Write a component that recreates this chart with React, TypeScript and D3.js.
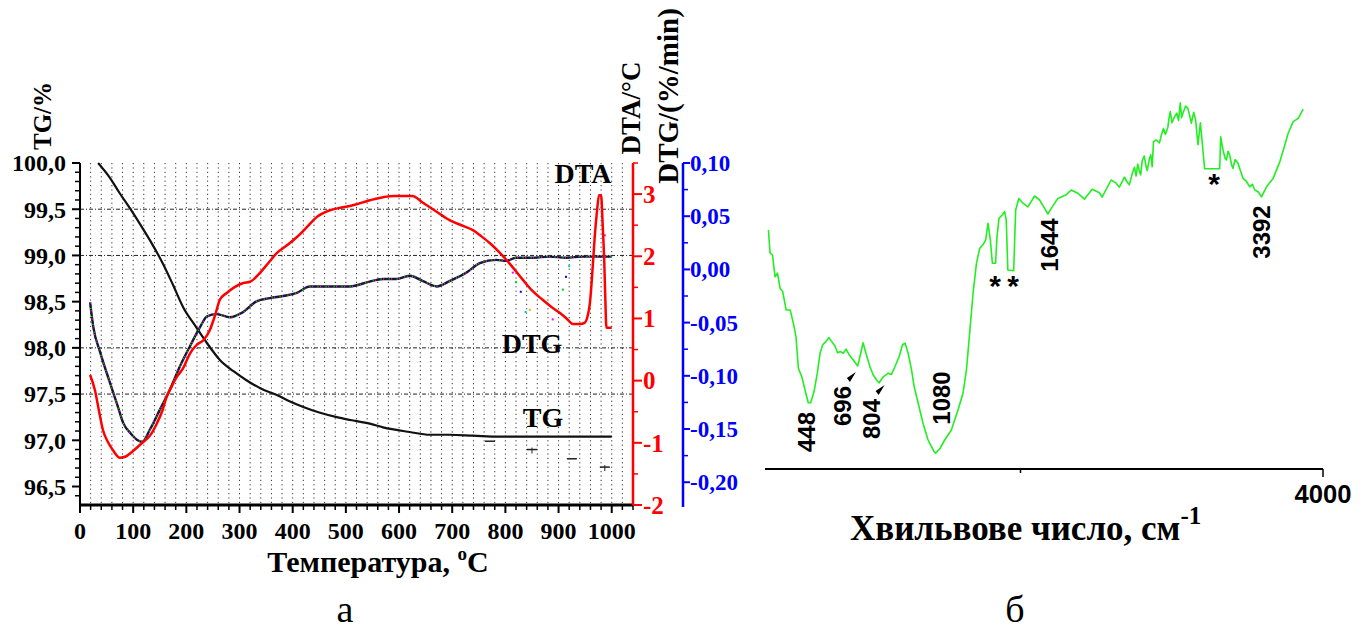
import React from "react";
import * as d3 from "d3";

// ---------- Thermal analysis (left panel) ----------
const tgData: [number, number][] = [
  [34, 100.0], [55, 99.85], [75, 99.67], [95, 99.5], [117, 99.3], [136, 99.12], [156, 98.91],
  [175, 98.68], [194, 98.44], [219, 98.22], [239, 98.05], [263, 97.87], [288, 97.75], [313, 97.65],
  [340, 97.56], [370, 97.49], [395, 97.42], [420, 97.36], [450, 97.3], [483, 97.25], [508, 97.22],
  [545, 97.18], [570, 97.14], [620, 97.09], [658, 97.06], [695, 97.06], [740, 97.05], [789, 97.04],
  [1000, 97.04],
];
const dtaData: [number, number][] = [
  [19, 0.09], [28, -0.15], [36, -0.5], [43, -0.79], [52, -0.98], [62, -1.12], [75, -1.24],
  [86, -1.22], [97, -1.15], [117, -1.0], [132, -0.88], [145, -0.68], [155, -0.48], [163, -0.26],
  [172, -0.1], [182, 0.06], [194, 0.2], [207, 0.44], [220, 0.58], [232, 0.65], [244, 0.81],
  [254, 1.05], [263, 1.3], [276, 1.41], [290, 1.5], [307, 1.57], [320, 1.59], [338, 1.73],
  [355, 1.9], [370, 2.05], [390, 2.18], [408, 2.31], [428, 2.48], [445, 2.63], [470, 2.74],
  [490, 2.78], [513, 2.82], [545, 2.9], [570, 2.95], [590, 2.97], [625, 2.97], [645, 2.86],
  [670, 2.72], [695, 2.58], [720, 2.49], [739, 2.42], [755, 2.32], [771, 2.21], [787, 2.08],
  [802, 1.94], [818, 1.78], [833, 1.62], [850, 1.45], [870, 1.3], [886, 1.19], [902, 1.09],
  [915, 1.0], [927, 0.91], [940, 0.91], [949, 0.93], [955, 1.05], [959, 1.25], [964, 1.8],
  [968, 2.31], [972, 2.7], [976, 2.98], [980, 2.98], [983, 2.5], [986, 1.9], [988, 1.3],
  [990, 0.85], [1000, 0.85],
];
const dtgData: [number, number][] = [
  [19, -0.031], [25, -0.054], [38, -0.078], [56, -0.106], [70, -0.127], [81, -0.144], [95, -0.154],
  [107, -0.16], [117, -0.162], [132, -0.15], [150, -0.132], [169, -0.113], [188, -0.091],
  [207, -0.072], [226, -0.054], [239, -0.044], [257, -0.042], [282, -0.045], [307, -0.04],
  [332, -0.03], [357, -0.027], [382, -0.025], [408, -0.022], [432, -0.016], [470, -0.016],
  [508, -0.016], [541, -0.012], [570, -0.009], [595, -0.009], [620, -0.006], [645, -0.011],
  [671, -0.016], [695, -0.011], [727, -0.003], [752, 0.006], [783, 0.009], [802, 0.008],
  [820, 0.011], [852, 0.011], [883, 0.012], [914, 0.011], [946, 0.012], [1000, 0.012],
];
const dtgNoise: [number, number][] = [
  [814, -0.003], [820, -0.012], [829, -0.021], [838, -0.04], [846, -0.038], [889, -0.047],
  [897, -0.039], [908, -0.019], [914, -0.007], [920, 0.003], [968, 0.031], [987, 0.032],
];
const tgMarks: [number, number][] = [[771, 96.99], [850, 96.9], [925, 96.8], [987, 96.71]];

const tempTicks = [0, 100, 200, 300, 400, 500, 600, 700, 800, 900, 1000];
const tgTicks = [96.5, 97.0, 97.5, 98.0, 98.5, 99.0, 99.5, 100.0];
const tgGrid = [97.5, 98.0, 99.0, 99.5];
const dtaTicks = [-2, -1, 0, 1, 2, 3];
const dtgTicks = [-0.2, -0.15, -0.1, -0.05, 0.0, 0.05, 0.1];

// ---------- IR spectrum (right panel) ----------
const irData: [number, number][] = [
  [246, 61.0], [254, 55.2], [266, 54.8], [279, 49.3], [291, 50.2], [304, 46.4], [317, 45.6],
  [334, 41.0], [354, 41.0], [370, 37.7], [383, 34.3], [395, 26.4], [412, 24.3], [428, 21.0],
  [444, 17.8], [456, 17.8], [473, 20.6], [489, 25.2], [503, 30.2], [516, 32.3], [532, 33.1],
  [547, 34.1], [561, 33.1], [577, 32.0], [590, 30.3], [605, 30.6], [618, 30.2], [632, 31.2],
  [648, 29.8], [668, 28.5], [690, 27.0], [701, 29.3], [717, 32.8], [731, 30.2], [751, 26.8],
  [767, 24.8], [784, 23.5], [797, 22.8], [817, 24.3], [842, 25.2], [858, 24.9], [875, 26.8],
  [896, 29.3], [913, 32.3], [926, 32.7], [941, 30.2], [958, 26.0], [971, 21.8], [991, 17.7],
  [1015, 12.7], [1040, 8.5], [1062, 6.4], [1070, 5.6], [1078, 5.2], [1088, 5.8], [1098, 6.2],
  [1123, 8.5], [1156, 11.0], [1189, 16.0], [1214, 20.2], [1231, 26.0], [1247, 35.2], [1264, 45.2],
  [1281, 52.7], [1297, 56.4], [1313, 57.3], [1327, 58.5], [1338, 62.7], [1350, 58.5], [1360, 52.7],
  [1376, 52.7], [1383, 59.3], [1393, 63.9], [1410, 64.8], [1421, 65.6], [1429, 63.5], [1437, 51.0],
  [1466, 50.8], [1476, 66.0], [1492, 68.9], [1512, 67.7], [1537, 66.8], [1570, 69.5], [1595, 68.5],
  [1620, 66.4], [1636, 65.0], [1653, 66.4], [1686, 68.9], [1727, 69.8], [1752, 71.0], [1785, 70.2],
  [1818, 68.7], [1856, 71.2], [1893, 70.3], [1906, 69.2], [1951, 73.5], [1976, 72.7], [1992, 71.7],
  [2034, 74.2], [2060, 73.0], [2083, 72.3], [2110, 75.0], [2133, 76.7], [2150, 74.5], [2165, 77.5],
  [2183, 75.6], [2195, 74.8], [2210, 78.3], [2230, 79.5], [2249, 76.8], [2260, 75.9], [2282, 78.9],
  [2295, 79.8], [2309, 76.8], [2322, 83.1], [2350, 83.5], [2381, 82.8], [2400, 84.8], [2421, 86.4],
  [2440, 84.9], [2464, 86.7], [2475, 88.9], [2488, 90.6], [2505, 87.8], [2530, 89.3], [2553, 90.2],
  [2570, 88.4], [2587, 92.8], [2600, 89.1], [2613, 90.2], [2640, 92.0], [2662, 91.4], [2680, 89.6],
  [2696, 87.7], [2720, 90.4], [2739, 88.5], [2762, 82.3], [2786, 87.8], [2828, 76.3], [2977, 76.3],
  [2987, 84.3], [3010, 81.0], [3030, 79.0], [3044, 78.5], [3060, 80.7], [3076, 79.8], [3095, 77.3],
  [3109, 76.4], [3130, 78.6], [3159, 77.7], [3185, 75.6], [3209, 73.9], [3240, 73.2], [3275, 71.8],
  [3300, 72.4], [3325, 71.0], [3360, 70.5], [3391, 69.3], [3441, 71.8], [3506, 73.9], [3573, 78.1],
  [3615, 81.6], [3655, 85.2], [3705, 88.1], [3755, 88.9], [3804, 91.2],
];
const irPeaks = [448, 696, 804, 1080, 1644, 3392];
const irStars = [1373, 1463, 2921];
const irTicks = [1500, 4000];
const irTickLabels = ["", "4000"];

const SERIF = "'Liberation Serif','Times New Roman',Times,serif";
const SANS = "'Liberation Sans',Arial,Helvetica,sans-serif";

const fmt = (v: number, d: number) => v.toFixed(d).replace(".", ",");

export default function App() {
  const xT = d3.scaleLinear().domain([0, 1040]).range([80, 633]);
  const yTG = d3.scaleLinear().domain([96.3, 100]).range([505, 163]);
  const yDTA = d3.scaleLinear().domain([-2, 3.5]).range([505, 163]);
  const yDTG = d3.scaleLinear().domain([-0.2214, 0.1]).range([505, 163]);

  const xW = d3.scaleLinear().domain([0, 2000, 4000]).range([719, 1121, 1323]);
  const yT = d3.scaleLinear().domain([0, 100]).range([474, 74]);

  const lineTG = d3.line<[number, number]>().x((d) => xT(d[0])).y((d) => yTG(d[1])).curve(d3.curveMonotoneX);
  const lineDTA = d3.line<[number, number]>().x((d) => xT(d[0])).y((d) => yDTA(d[1])).curve(d3.curveMonotoneX);
  const lineDTG = d3.line<[number, number]>().x((d) => xT(d[0])).y((d) => yDTG(d[1])).curve(d3.curveMonotoneX);
  const lineIR = d3.line<[number, number]>().x((d) => xW(d[0])).y((d) => yT(d[1]));

  const left = xT(0);
  const right = xT(1040);
  const top = 163;
  const bottom = 505;
  const blueX = 683;

  const vGrid = d3.range(20, 1040, 20);
  const tgMinor = d3.range(96.4, 100.001, 0.1).filter((v) => Math.abs(v * 2 - Math.round(v * 2)) > 0.01);
  const dtaMinor = d3.range(-1.5, 3.6, 1);
  const dtgMinor = d3.range(-0.175, 0.1, 0.05);
  const tempMinor = d3.range(0, 1041, 20).filter((v) => v % 100 !== 0);

  const noiseColors = ["#ff00ff", "#00cc00", "#0000ff", "#00cccc", "#ffaa00", "#ff00ff"];

  // annotation layout for IR peaks (dx relative to peak, y center in px)
  const peakLayout: Record<number, { dx: number; y: number; arrow?: boolean }> = {
    448: { dx: -3, y: 432 },
    696: { dx: -16, y: 406, arrow: true },
    804: { dx: -9, y: 419, arrow: true },
    1080: { dx: 5, y: 398 },
    1644: { dx: 0, y: 245 },
    3392: { dx: 0, y: 232 },
  };
  const starY = [296, 296, 194];

  const dtgD = lineDTG(dtgData) || "";

  return (
    <svg width={1369} height={634} style={{ position: "absolute", left: 0, top: 0, background: "#fff" }}>
      <rect x={0} y={0} width={1369} height={634} fill="#fff" />

      {/* grid */}
      {vGrid.map((v) => (
        <line key={"vg" + v} x1={xT(v)} x2={xT(v)} y1={top} y2={bottom} stroke="#333" strokeWidth={1} strokeDasharray="1.2 3.2" />
      ))}
      {tgGrid.map((v) => (
        <line key={"hg" + v} x1={left} x2={right} y1={yTG(v)} y2={yTG(v)} stroke="#222" strokeWidth={1} strokeDasharray="4 2 1 2" />
      ))}

      {/* curves */}
      <path d={lineTG(tgData) || ""} fill="none" stroke="#111" strokeWidth={2.2} />
      {tgMarks.map((d, i) => (
        <g key={"tm" + i}>
          <line x1={xT(d[0]) - 5} x2={xT(d[0]) + 5} y1={yTG(d[1])} y2={yTG(d[1])} stroke="#222" strokeWidth={1.5} />
          {i % 2 === 1 && <line x1={xT(d[0])} x2={xT(d[0])} y1={yTG(d[1]) - 2} y2={yTG(d[1]) + 4} stroke="#222" strokeWidth={1} />}
        </g>
      ))}
      <path d={dtgD} fill="none" stroke="#1a1a1a" strokeWidth={2.4} />
      <path d={dtgD} fill="none" stroke="#ff00ff" strokeWidth={1.6} strokeDasharray="1 7" />
      <path d={dtgD} fill="none" stroke="#00dd00" strokeWidth={1.6} strokeDasharray="1 7" strokeDashoffset={2.5} />
      <path d={dtgD} fill="none" stroke="#0000ff" strokeWidth={1.6} strokeDasharray="1 7" strokeDashoffset={5} />
      {dtgNoise.map((d, i) => (
        <rect key={"nz" + i} x={xT(d[0]) - 1} y={yDTG(d[1]) - 1} width={2} height={2} fill={noiseColors[i % noiseColors.length]} />
      ))}
      <path d={lineDTA(dtaData) || ""} fill="none" stroke="#ff0000" strokeWidth={2.5} />

      {/* curve labels */}
      <text x={583} y={183} fontFamily={SERIF} fontWeight="bold" fontSize={28} textAnchor="middle">DTA</text>
      <text x={532} y={353} fontFamily={SERIF} fontWeight="bold" fontSize={28} textAnchor="middle">DTG</text>
      <text x={543} y={427} fontFamily={SERIF} fontWeight="bold" fontSize={28} textAnchor="middle">TG</text>

      {/* left TG axis */}
      <line x1={left} x2={left} y1={top} y2={bottom} stroke="#000" strokeWidth={2} />
      {tgTicks.map((v) => (
        <g key={"tgt" + v}>
          <line x1={left - 8} x2={left} y1={yTG(v)} y2={yTG(v)} stroke="#000" strokeWidth={2} />
          <text x={66} y={yTG(v)} dy="0.35em" textAnchor="end" fontFamily={SERIF} fontWeight="bold" fontSize={24}>{fmt(v, 1)}</text>
        </g>
      ))}
      {tgMinor.map((v) => (
        <line key={"tgm" + v} x1={left - 5} x2={left} y1={yTG(v)} y2={yTG(v)} stroke="#000" strokeWidth={1.5} />
      ))}
      <text transform={`translate(42,116) rotate(-90)`} textAnchor="middle" dominantBaseline="central" fontFamily={SERIF} fontWeight="bold" fontSize={25}>TG/%</text>

      {/* bottom temperature axis */}
      <line x1={left - 1} x2={right} y1={bottom} y2={bottom} stroke="#000" strokeWidth={3} />
      {tempTicks.map((v) => (
        <g key={"xt" + v}>
          <line x1={xT(v)} x2={xT(v)} y1={bottom} y2={bottom + 8} stroke="#000" strokeWidth={2} />
          <text x={xT(v)} y={539} textAnchor="middle" fontFamily={SERIF} fontWeight="bold" fontSize={24}>{v}</text>
        </g>
      ))}
      {tempMinor.map((v) => (
        <line key={"xm" + v} x1={xT(v)} x2={xT(v)} y1={bottom} y2={bottom + 5} stroke="#000" strokeWidth={1.5} />
      ))}
      <text x={378} y={572} textAnchor="middle" fontFamily={SERIF} fontWeight="bold" fontSize={30}>
        Температура, <tspan fontSize={19} dy={-12}>o</tspan><tspan dy={12}>C</tspan>
      </text>

      {/* red DTA axis */}
      <line x1={right} x2={right} y1={top} y2={bottom} stroke="#ff0000" strokeWidth={2.5} />
      {dtaTicks.map((v) => (
        <g key={"dta" + v}>
          <line x1={right} x2={right + 9} y1={yDTA(v)} y2={yDTA(v)} stroke="#ff0000" strokeWidth={2} />
          <text x={643} y={yDTA(v)} dy="0.35em" fontFamily={SERIF} fontWeight="bold" fontSize={25} fill="#ff0000">{v}</text>
        </g>
      ))}
      {dtaMinor.map((v) => (
        <line key={"dtam" + v} x1={right} x2={right + 5} y1={yDTA(v)} y2={yDTA(v)} stroke="#ff0000" strokeWidth={1.5} />
      ))}
      <text transform={`translate(631,108) rotate(-90)`} textAnchor="middle" dominantBaseline="central" fontFamily={SERIF} fontWeight="bold" fontSize={27}>DTA/°C</text>

      {/* blue DTG axis */}
      <line x1={blueX} x2={blueX} y1={top} y2={bottom + 2} stroke="#0000ff" strokeWidth={2.5} />
      {dtgTicks.map((v) => (
        <g key={"dtg" + v}>
          <line x1={blueX} x2={blueX + 7} y1={yDTG(v)} y2={yDTG(v)} stroke="#0000ff" strokeWidth={2} />
          <text x={690} y={yDTG(v)} dy="0.35em" fontFamily={SERIF} fontWeight="bold" fontSize={23} fill="#0000ff">{fmt(v, 2)}</text>
        </g>
      ))}
      {dtgMinor.map((v) => (
        <line key={"dtgm" + v} x1={blueX} x2={blueX + 5} y1={yDTG(v)} y2={yDTG(v)} stroke="#0000ff" strokeWidth={1.5} />
      ))}
      <text transform={`translate(668,96) rotate(-90)`} textAnchor="middle" dominantBaseline="central" fontFamily={SERIF} fontWeight="bold" fontSize={29}>DTG/(%/min)</text>

      {/* ---------- IR panel ---------- */}
      <path d={lineIR(irData) || ""} fill="none" stroke="#22ee22" strokeWidth={1.6} strokeLinejoin="round" />
      <line x1={765} x2={xW(4000)} y1={469} y2={469} stroke="#000" strokeWidth={2} />
      {irTicks.map((v, i) => (
        <g key={"irt" + v}>
          <line x1={xW(v)} x2={xW(v)} y1={469} y2={469 + (irTickLabels[i] ? 8 : 4)} stroke="#000" strokeWidth={1.5} />
          {irTickLabels[i] && (
            <text x={xW(v)} y={503} textAnchor="middle" fontFamily={SANS} fontWeight="bold" fontSize={26} textLength={57} lengthAdjust="spacingAndGlyphs">{irTickLabels[i]}</text>
          )}
        </g>
      ))}
      <text x={850} y={540} fontFamily={SERIF} fontWeight="bold" fontSize={35}>
        Хвильвове число, см<tspan fontSize={25} dy={-16}>-1</tspan>
      </text>
      {irPeaks.map((p) => {
        const L = peakLayout[p];
        const cx = xW(p) + L.dx;
        const len = String(p).length * 13.3;
        return (
          <g key={"pk" + p}>
            <text transform={`translate(${cx},${L.y}) rotate(-90)`} textAnchor="middle" dominantBaseline="central" fontFamily={SANS} fontWeight="bold" fontSize={24}>{p}</text>
            {L.arrow && (
              <polygon
                points={`${cx + 13},${L.y - len / 2 - 14} ${cx + 4},${L.y - len / 2 - 8} ${cx + 7},${L.y - len / 2 - 4}`}
                fill="#000"
              />
            )}
          </g>
        );
      })}
      {irStars.map((s, i) => (
        <text key={"st" + i} x={xW(s)} y={starY[i]} textAnchor="middle" fontFamily={SANS} fontWeight="bold" fontSize={30}>*</text>
      ))}

      {/* panel letters */}
      <text x={345} y={622} textAnchor="middle" fontFamily={SERIF} fontSize={38}>а</text>
      <text x={1015} y={622} textAnchor="middle" fontFamily={SERIF} fontSize={38}>б</text>
    </svg>
  );
}
